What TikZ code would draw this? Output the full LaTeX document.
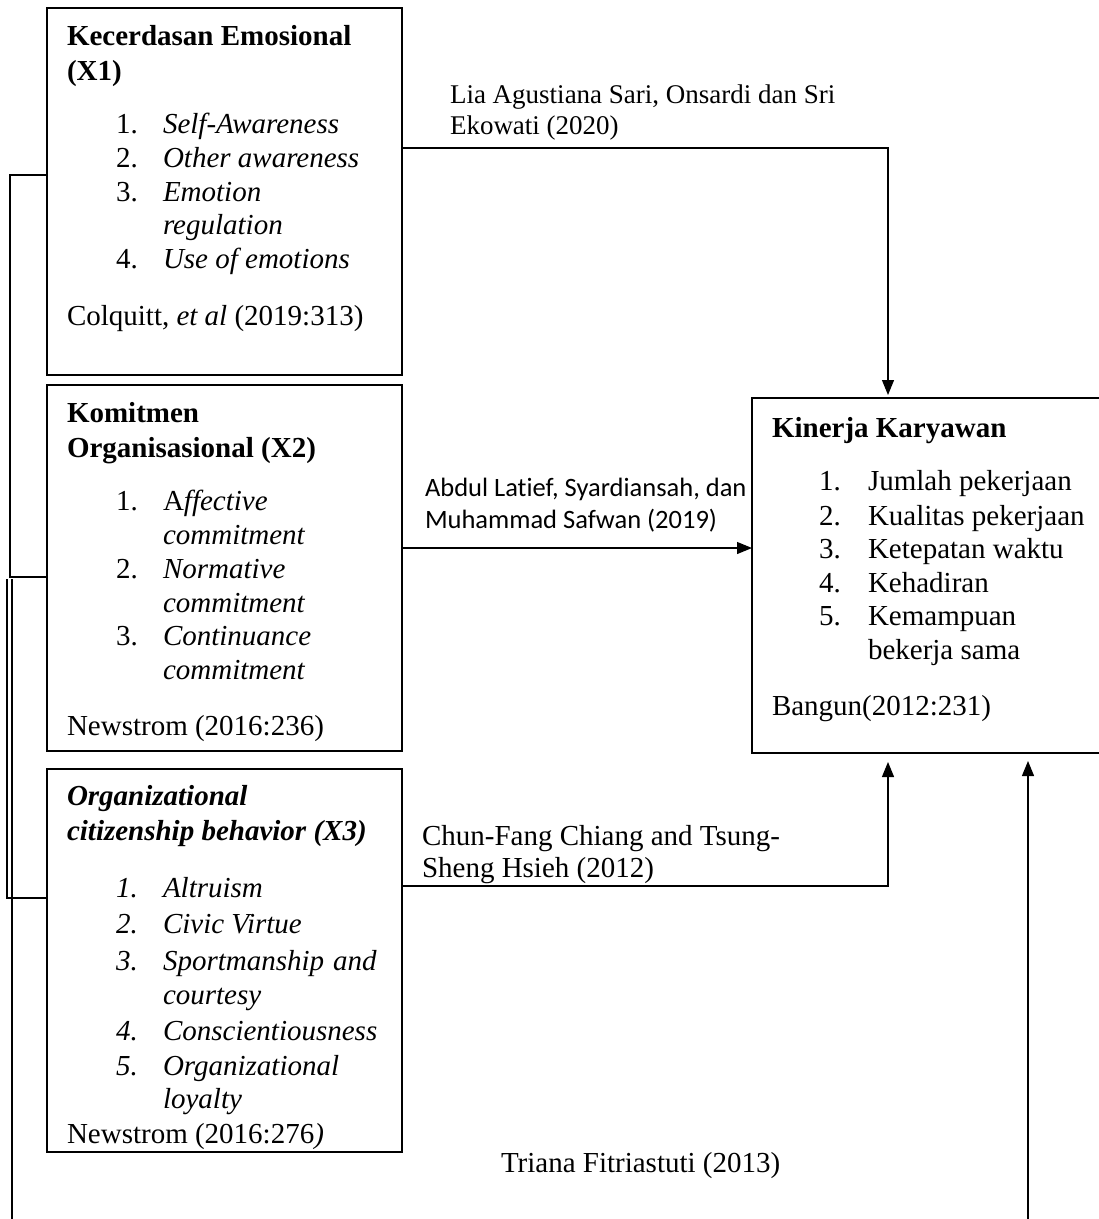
\documentclass[tikz,border=0pt]{standalone}
\usepackage{fontspec}
\setmainfont{Liberation Serif}
\newfontfamily\calibrifont[Ligatures=NoCommon]{Carlito}
\usetikzlibrary{arrows.meta}
\newcommand\tline[4]{\node[txt] (#1) at (#2,#3) {#4};}
\begin{document}
\begin{tikzpicture}[x=1pt,y=-1pt,
 box/.style={draw,line width=1.2pt,rectangle,anchor=north west,inner sep=0pt,outer sep=0pt},
 txt/.style={anchor=base west,inner sep=0pt,outer sep=0pt,font=\fontsize{29}{34}\selectfont},
 lab/.style={anchor=base west,inner sep=0pt,outer sep=0pt,font=\fontsize{27}{31}\selectfont},
 cal/.style={anchor=base west,inner sep=0pt,outer sep=0pt,font=\calibrifont\fontsize{26.5}{31}\selectfont},
 conn/.style={line width=1.2pt},
 arr/.style={conn,-{Triangle[length=15pt,width=12pt]}}]
\useasboundingbox (0,0) rectangle (1099,1219);

% boxes
\node[box,minimum width=355pt,minimum height=367pt] (x1) at (47,8) {};
\node[box,minimum width=355pt,minimum height=366pt] (x2) at (47,385) {};
\node[box,minimum width=355pt,minimum height=383pt] (x3) at (47,769) {};
\node[box,minimum width=360pt,minimum height=355pt] (kin) at (752,398) {};

% X1 text
\tline{x1a}{67}{45}{\bfseries Kecerdasan Emosional}
\tline{x1b}{67}{80}{\bfseries (X1)}
\tline{x1n1}{116}{133}{1.}
\tline{x1i1}{163}{133}{\itshape Self-Awareness}
\tline{x1n2}{116}{167}{2.}
\tline{x1i2}{163}{167}{\itshape Other awareness}
\tline{x1n3}{116}{201}{3.}
\tline{x1i3}{163}{201}{\itshape Emotion}
\tline{x1i3b}{163}{234}{\itshape regulation}
\tline{x1n4}{116}{268}{4.}
\tline{x1i4}{163}{268}{\itshape Use of emotions}
\tline{x1s}{67}{325}{Colquitt, \textit{et al} (2019:313)}

% X2 text
\tline{x2a}{67}{422}{\bfseries Komitmen}
\tline{x2b}{67}{457}{\bfseries Organisasional (X2)}
\tline{x2n1}{116}{510}{1.}
\tline{x2i1}{163}{510}{A\textit{ffective}}
\tline{x2i1b}{163}{544}{\itshape commitment}
\tline{x2n2}{116}{578}{2.}
\tline{x2i2}{163}{578}{\itshape Normative}
\tline{x2i2b}{163}{612}{\itshape commitment}
\tline{x2n3}{116}{645}{3.}
\tline{x2i3}{163}{645}{\itshape Continuance}
\tline{x2i3b}{163}{679}{\itshape commitment}
\tline{x2s}{67}{735}{Newstrom (2016:236)}

% X3 text
\tline{x3a}{67}{805}{\bfseries\itshape Organizational}
\tline{x3b}{67}{840}{\bfseries\itshape citizenship behavior (X3)}
\tline{x3n1}{116}{897}{\itshape 1.}
\tline{x3i1}{163}{897}{\itshape Altruism}
\tline{x3n2}{116}{933}{\itshape 2.}
\tline{x3i2}{163}{933}{\itshape Civic Virtue}
\tline{x3n3}{116}{970}{\itshape 3.}
\tline{x3i3}{163}{970}{\itshape Sportmanship\hspace{9pt}and}
\tline{x3i3b}{163}{1004}{\itshape courtesy}
\tline{x3n4}{116}{1040}{\itshape 4.}
\tline{x3i4}{163}{1040}{\itshape Conscientiousness}
\tline{x3n5}{116}{1075}{\itshape 5.}
\tline{x3i5}{163}{1075}{\itshape Organizational}
\tline{x3i5b}{163}{1108}{\itshape loyalty}
\tline{x3s}{67}{1143}{Newstrom (2016:276\textit{)}}

% Kinerja text
\tline{ka}{772}{437}{\bfseries Kinerja Karyawan}
\tline{kn1}{819}{490}{1.}
\tline{ki1}{868}{490}{Jumlah pekerjaan}
\tline{kn2}{819}{525}{2.}
\tline{ki2}{868}{525}{Kualitas pekerjaan}
\tline{kn3}{819}{558}{3.}
\tline{ki3}{868}{558}{Ketepatan waktu}
\tline{kn4}{819}{592}{4.}
\tline{ki4}{868}{592}{Kehadiran}
\tline{kn5}{819}{625}{5.}
\tline{ki5}{868}{625}{Kemampuan}
\tline{ki5b}{868}{659}{bekerja sama}
\tline{ks}{772}{715}{Bangun(2012:231)}

% connector labels
\node[lab] (l1a) at (450,103) {Lia Agustiana Sari, Onsardi dan Sri};
\node[lab] (l1b) at (450,134) {Ekowati (2020)};
\node[cal] (l2a) at (425,496) {Abdul Latief, Syardiansah, dan};
\node[cal] (l2b) at (425,528) {Muhammad Safwan (2019)};
\node[txt] (l3a) at (422,845) {Chun-Fang Chiang and Tsung-};
\node[txt] (l3b) at (422,877) {Sheng Hsieh (2012)};
\node[txt] (l4) at (501,1172) {Triana Fitriastuti (2013)};

% connectors
\coordinate (b1) at (888,148);
\draw[arr,shorten >=3pt] (x1.east |- b1) -- (b1) -- (b1 |- kin.north);
\draw[arr] (x2.east |- 0,548) -- (kin.west |- 0,548);
\coordinate (b3) at (888,886);
\draw[arr,shorten >=9pt] (x3.east |- b3) -- (b3) -- (b3 |- kin.south);
\coordinate (r1) at (1028,1219);
\draw[arr,shorten >=8pt] (r1) -- (r1 |- kin.south);

% left feedback lines
\coordinate (c1) at (10,175);
\coordinate (c2) at (10,577);
\draw[conn] (x1.west |- c1) -- (c1) -- (c2) -- (x2.west |- c2);
\coordinate (c3) at (7,579);
\coordinate (c4) at (7,898);
\draw[conn] (c3) -- (c4) -- (x3.west |- c4);
\coordinate (c5) at (12,579);
\coordinate (c6) at (12,1219);
\draw[conn] (c5) -- (c6);
\end{tikzpicture}
\end{document}
